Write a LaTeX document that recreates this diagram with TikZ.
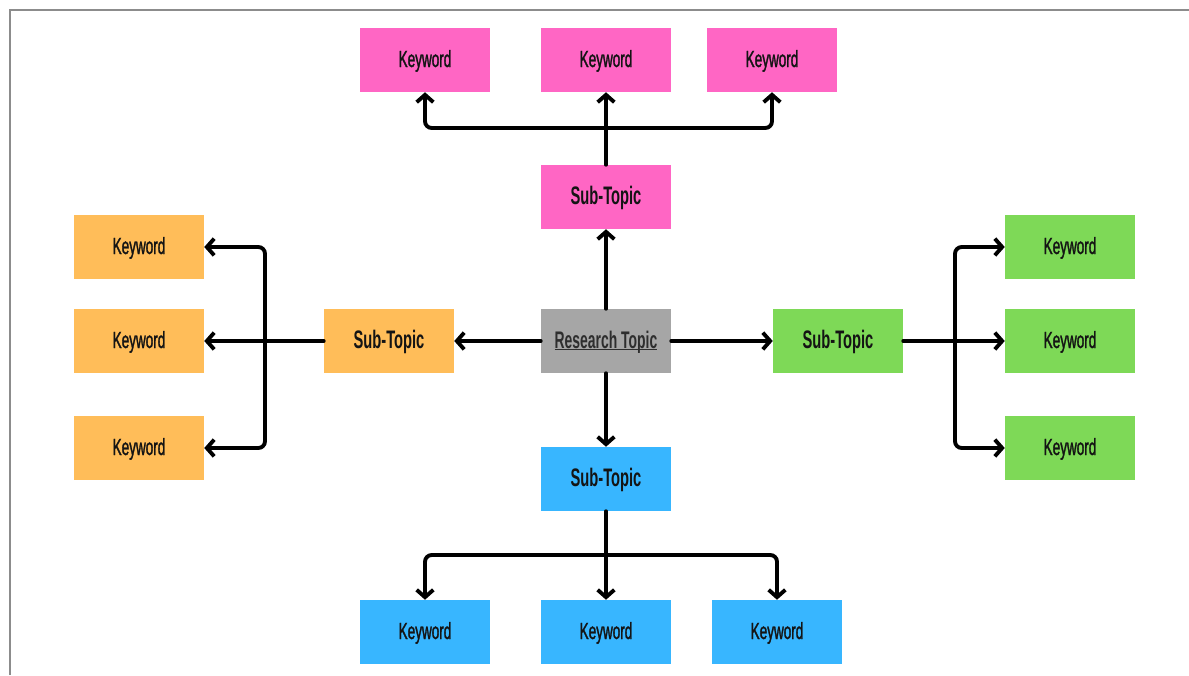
\documentclass[tikz,border=0pt]{standalone}
\usepackage{fontspec}
\setmainfont[FakeStretch=0.58]{Liberation Sans}
\newfontfamily\kwfont[FakeStretch=0.58,FakeBold=1.3]{Liberation Sans}
\newcommand\rtunder[1]{\setbox0=\hbox{#1}\rlap{\rule[-1.8pt]{\wd0}{1pt}}\box0}
\usetikzlibrary{arrows.meta}
\definecolor{cpink}{HTML}{FF66C4}
\definecolor{corange}{HTML}{FFBD59}
\definecolor{cgreen}{HTML}{7ED957}
\definecolor{cblue}{HTML}{38B6FF}
\definecolor{cgray}{HTML}{A6A6A6}
\definecolor{ctext}{HTML}{141414}
\definecolor{crt}{HTML}{2E2E2E}
\tikzset{
  x=0.75pt, y=-0.75pt,
  box/.style={minimum width=97.5pt, minimum height=48pt, inner sep=0pt, text=ctext, text height=12.5pt, text depth=2pt},
  kw/.style={box, font=\kwfont\fontsize{17.5}{20}\selectfont},
  sub/.style={box, font=\fontsize{19}{22}\selectfont\bfseries},
  arr/.style={line width=2.9pt, -{Straight Barb[length=5.5pt,width=12.5pt,line width=2.9pt]}, rounded corners=5pt, line cap=round},
}
\begin{document}
\begin{tikzpicture}
\useasboundingbox (0,0) rectangle (1189,675);
\fill[white] (0,0) rectangle (1189,675);
\draw[gray!90, line width=1.2pt] (10,675) -- (10,10) -- (1189,10);

% center
\node[sub, fill=cgray, text=crt, font=\fontsize{18}{22}\selectfont\bfseries] (rt) at (606,341) {\rtunder{Research Topic}};
% sub topics
\node[sub, fill=cpink] (ps) at (606,197) {Sub-Topic};
\node[sub, fill=corange] (os) at (389,341) {Sub-Topic};
\node[sub, fill=cgreen] (gs) at (838,341) {Sub-Topic};
\node[sub, fill=cblue] (bs) at (606,479) {Sub-Topic};
% pink keywords
\node[kw, fill=cpink] (pk1) at (425,60) {Keyword};
\node[kw, fill=cpink] (pk2) at (606,60) {Keyword};
\node[kw, fill=cpink] (pk3) at (772,60) {Keyword};
% orange keywords
\node[kw, fill=corange] (ok1) at (139,247) {Keyword};
\node[kw, fill=corange] (ok2) at (139,341) {Keyword};
\node[kw, fill=corange] (ok3) at (139,448) {Keyword};
% green keywords
\node[kw, fill=cgreen] (gk1) at (1070,247) {Keyword};
\node[kw, fill=cgreen] (gk2) at (1070,341) {Keyword};
\node[kw, fill=cgreen] (gk3) at (1070,448) {Keyword};
% blue keywords
\node[kw, fill=cblue] (bk1) at (425,632) {Keyword};
\node[kw, fill=cblue] (bk2) at (606,632) {Keyword};
\node[kw, fill=cblue] (bk3) at (777,632) {Keyword};

% junctions
\coordinate (jt) at (606,128);
\coordinate (jl) at (265,341);
\coordinate (jr) at (955,341);
\coordinate (jb) at (606,555);

% center to sub topics
\draw[arr] (rt.north) -- (ps.south);
\draw[arr] (rt.west) -- (os.east);
\draw[arr] (rt.east) -- (gs.west);
\draw[arr] (rt.south) -- (bs.north);

% pink
\draw[arr] (ps.north) -- (pk2.south);
\draw[arr] (jt) -| (pk1.south);
\draw[arr] (jt) -| (pk3.south);
% orange
\draw[arr] (os.west) -- (ok2.east);
\draw[arr] (jl) |- (ok1.east);
\draw[arr] (jl) |- (ok3.east);
% green
\draw[arr] (gs.east) -- (gk2.west);
\draw[arr] (jr) |- (gk1.west);
\draw[arr] (jr) |- (gk3.west);
% blue
\draw[arr] (bs.south) -- (bk2.north);
\draw[arr] (jb) -| (bk1.north);
\draw[arr] (jb) -| (bk3.north);
\end{tikzpicture}
\end{document}
